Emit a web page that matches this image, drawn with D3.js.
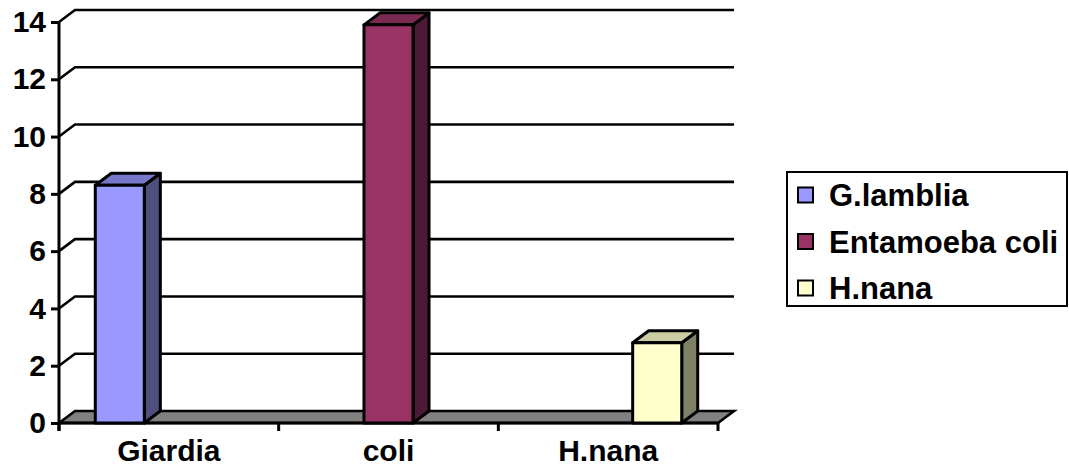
<!DOCTYPE html>
<html>
<head>
<meta charset="utf-8">
<script src="https://cdn.jsdelivr.net/npm/d3@7"></script>
<style>
  html, body { margin: 0; padding: 0; background: #fff; }
  svg { display: block; font-family: "Liberation Sans", Arial, sans-serif; font-weight: bold; }
</style>
</head>
<body>
<svg id="chart" width="1069" height="468"></svg>
<script>
// Categories along the x axis
const categories = ["Giardia", "coli", "H.nana"];
// Series (legend entries)
const seriesNames = ["G.lamblia", "Entamoeba coli", "H.nana"];
// Values per series, one per category
const gLambliaValues = [8.3, 0, 0];
const entamoebaColiValues = [0, 13.9, 0];
const hNanaValues = [0, 0, 2.8];
// Y axis tick values
const yTickValues = [0, 2, 4, 6, 8, 10, 12, 14];

const seriesValues = [gLambliaValues, entamoebaColiValues, hNanaValues];
const palette = [
  { front: "#9999FF", side: "#4F4F80", top: "#7777CC" },
  { front: "#993366", side: "#4C1A36", top: "#7A2952" },
  { front: "#FFFFCC", side: "#808066", top: "#CCCCA3" }
];

const svg = d3.select("#chart");

// Plot geometry: front plane and depth offset of the 3D box
const left = 59, right = 718, y0 = 423, yTop = 22;
const dx = 16, dy = 12;

const y = d3.scaleLinear().domain([0, 14]).range([y0, yTop]);
const x = d3.scaleBand().domain(categories).range([left, right]).padding(0);
const xs = d3.scaleBand().domain(seriesNames).range([0, x.bandwidth()])
  .paddingInner(0).paddingOuter(0.74);

// Back wall gridlines with the diagonal from the axis to the wall
const grid = svg.append("g");
yTickValues.filter(v => v > 0).forEach(v => {
  grid.append("path")
    .attr("d", `M${left},${y(v)} L${left + dx},${y(v) - dy} L${right + dx},${y(v) - dy}`)
    .attr("fill", "none").attr("stroke", "#000").attr("stroke-width", 2.6);
});

// Floor
svg.append("path")
  .attr("d", `M${left},${y0} L${left + dx},${y0 - dy} L${right + dx},${y0 - dy} L${right},${y0} Z`)
  .attr("fill", "#808080").attr("stroke", "#000").attr("stroke-width", 2.6)
  .attr("stroke-linejoin", "miter");

// Front x axis line with category ticks
svg.append("line")
  .attr("x1", left).attr("x2", right).attr("y1", y0).attr("y2", y0)
  .attr("stroke", "#000").attr("stroke-width", 3);
const boundaries = categories.map(c => x(c)).concat([right]);
boundaries.forEach(bx => {
  svg.append("line")
    .attr("x1", bx).attr("x2", bx).attr("y1", y0).attr("y2", y0 + 8)
    .attr("stroke", "#000").attr("stroke-width", 3);
});

// Y axis
const yAxis = d3.axisLeft(y).tickValues(yTickValues).tickSize(8).tickPadding(5)
  .tickFormat(d3.format("d"));
const yg = svg.append("g").attr("transform", `translate(${left},0)`).call(yAxis);
yg.select(".domain").remove();
yg.selectAll(".tick line").attr("stroke", "#000").attr("stroke-width", 3);
yg.selectAll(".tick text").attr("fill", "#000").attr("font-size", 30)
  .attr("font-weight", "bold").attr("font-family", "Liberation Sans, Arial, sans-serif");
svg.append("line")
  .attr("x1", left).attr("x2", left).attr("y1", yTop).attr("y2", y0 + 8)
  .attr("stroke", "#000").attr("stroke-width", 3);

// 3D columns
const bars = [];
seriesNames.forEach((s, si) => {
  categories.forEach((c, ci) => {
    const v = seriesValues[si][ci];
    if (v > 0) bars.push({ s, si, c, v });
  });
});
const bg = svg.append("g");
bars.forEach(b => {
  const bx = x(b.c) + xs(b.s);
  const w = xs.bandwidth();
  const yv = y(b.v);
  const col = palette[b.si];
  const g = bg.append("g").attr("stroke", "#000").attr("stroke-width", 3)
    .attr("stroke-linejoin", "round");
  g.append("path")
    .attr("d", `M${bx + w},${y0} L${bx + w + dx},${y0 - dy} L${bx + w + dx},${yv - dy} L${bx + w},${yv} Z`)
    .attr("fill", col.side);
  g.append("path")
    .attr("d", `M${bx},${yv} L${bx + dx},${yv - dy} L${bx + w + dx},${yv - dy} L${bx + w},${yv} Z`)
    .attr("fill", col.top);
  g.append("rect")
    .attr("x", bx).attr("y", yv).attr("width", w).attr("height", y0 - yv)
    .attr("fill", col.front);
});

// Category labels
svg.append("g").selectAll("text").data(categories).join("text")
  .attr("x", d => x(d) + x.bandwidth() / 2)
  .attr("y", 461)
  .attr("text-anchor", "middle")
  .attr("font-size", 30)
  .text(d => d);

// Legend
const legend = svg.append("g");
legend.append("rect")
  .attr("x", 787).attr("y", 172).attr("width", 280).attr("height", 134)
  .attr("fill", "#fff").attr("stroke", "#000").attr("stroke-width", 2);
const rowY = d3.scalePoint().domain(seriesNames).range([195, 288]);
seriesNames.forEach((s, i) => {
  legend.append("rect")
    .attr("x", 798).attr("y", rowY(s) - 7.5).attr("width", 15).attr("height", 15)
    .attr("fill", palette[i].front).attr("stroke", "#000").attr("stroke-width", 2);
  legend.append("text")
    .attr("x", 829).attr("y", rowY(s)).attr("dy", "0.36em")
    .attr("font-size", 31)
    .text(s);
});
</script>
</body>
</html>
